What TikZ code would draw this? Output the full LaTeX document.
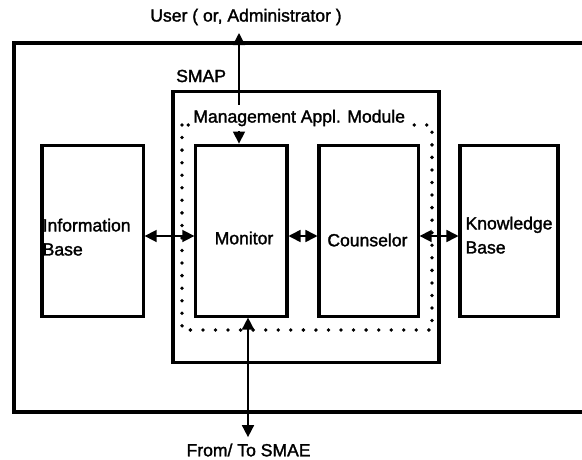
\documentclass[tikz,border=0pt]{standalone}
\usepackage{fontspec}
\setmainfont{Liberation Sans}[UprightFeatures={FakeBold=1.6}]
\usetikzlibrary{arrows.meta,positioning}

\begin{document}
\begin{tikzpicture}[
  every node/.style={font=\fontsize{17.5}{24}\selectfont},
  blk/.style={draw, line width=3pt, minimum height=5.985cm, inner sep=0pt},
  lbl/.style={inner sep=0pt, align=left},
  dots/.style={line width=3.8pt, line cap=round, dash pattern=on 0pt off 12.5pt},
  arr/.style={{Triangle[length=12pt,width=12pt]}-{Triangle[length=12pt,width=12pt]},
    line width=1.6pt}]
\useasboundingbox (0,0) rectangle (20.37,-16.065);
% Outer system, open to the right
\draw[line width=3.2pt] (20.37,-1.505) -- (0.49,-1.505) -- (0.49,-14.42) -- (20.37,-14.42);
% SMAP and its module
\node[draw, line width=3pt, minimum width=9.31cm, minimum height=9.485cm] (smap) at (10.71,-7.93) {};
\node[lbl, anchor=west] (smaplbl) at (6.16,-2.66) {SMAP};
\draw[dots] (6.37,-4.375) rectangle (15.12,-11.55);
% Blocks
\node[blk, minimum width=3.54cm] (ib) at (3.24,-8.07) {};
\node[blk, minimum width=3.19cm] (mon) at (8.45,-8.07) {};
\node[blk, minimum width=3.47cm] (cou) at (12.9,-8.07) {};
\node[blk, minimum width=3.43cm] (kb) at (17.815,-8.07) {};
\node[lbl, anchor=west] (iblbl) at ([xshift=0.07cm, yshift=-0.23cm]ib.west) {Information\\Base};
\node[lbl] (monlbl) at ([xshift=0.09cm, yshift=-0.26cm]mon.center) {Monitor};
\node[lbl] (coulbl) at ([xshift=-0.04cm, yshift=-0.33cm]cou.center) {Counselor};
\node[lbl, anchor=west] (kblbl) at ([xshift=0.24cm, yshift=-0.16cm]kb.west) {Knowledge\\Base};
% Outside ends
\coordinate (user) at (8.365,-1.155);
\coordinate (smae) at (8.68,-15.3);
\node (userlbl) at (8.61,-0.595) {User ( or, Administrator )};
\node (smaelbl) at (8.7,-15.75) {From/ To SMAE};
% Arrows
\draw[arr] ([xshift=-0.085cm]mon.north) -- (user);
\draw[arr] ([xshift=0.23cm]mon.south) -- (smae);
\draw[arr] ([yshift=-0.19cm]ib.east) -- ([yshift=-0.19cm]mon.west);
\draw[arr] ([yshift=-0.19cm]mon.east) -- ([yshift=-0.19cm]cou.west);
\draw[arr] ([yshift=-0.19cm]cou.east) -- ([yshift=-0.19cm]kb.west);
% Module title over the dotted edge
\node[lbl, anchor=west, fill=white, inner ysep=5pt, inner xsep=2pt] (mamlbl) at (6.69,-4.13) {Management Appl. Module};
\end{tikzpicture}
\end{document}
